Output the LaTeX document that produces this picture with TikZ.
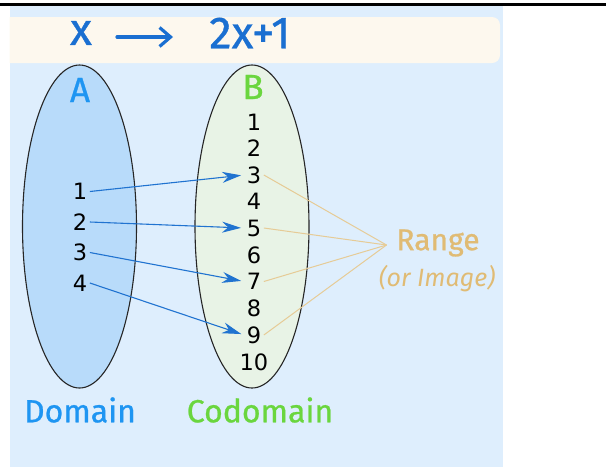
\documentclass[tikz,border=0pt]{standalone}
\usepackage{fontspec}
\setmainfont{Fira Sans}
\newfontfamily\digitfont{DejaVu Sans}
\newfontfamily\headfont[FakeBold=0.8]{Fira Sans}
\usetikzlibrary{arrows.meta,shapes.geometric}

\definecolor{panelblue}{HTML}{DEEEFD}
\definecolor{bandcream}{HTML}{FDF8EE}
\definecolor{setAfill}{HTML}{B8DBFA}
\definecolor{setBfill}{HTML}{E8F3E6}
\definecolor{titleblue}{HTML}{1A6FD1}
\definecolor{labelblue}{HTML}{1E95F2}
\definecolor{labelgreen}{HTML}{6AD63E}
\definecolor{arrowblue}{HTML}{2073D0}
\definecolor{tanline}{HTML}{E6CB96}
\definecolor{tantext}{HTML}{E0BB74}

\tikzset{
  setshape/.style={ellipse, draw=black!85, line width=1.1pt, inner sep=0pt,
                   minimum width=114pt, minimum height=323pt},
  num/.style={font=\digitfont\fontsize{22.5}{22.5}\selectfont, text=black,
              inner sep=2.5pt},
  setlabel/.style={font=\headfont\fontsize{35}{35}\selectfont, inner sep=0pt},
  caption/.style={font=\headfont\fontsize{32}{32}\selectfont, inner sep=0pt},
  maparrow/.style={draw=arrowblue, line width=1.1pt,
                   -{Stealth[length=19pt, width=11pt, inset=6pt]},
                   shorten >=3pt},
  rangeline/.style={draw=tanline, line width=1pt},
  titletext/.style={font=\headfont\fontsize{45}{45}\selectfont, text=titleblue,
                    inner sep=0pt}
}

\begin{document}
\begin{tikzpicture}[x=1pt, y=-1pt]
  \useasboundingbox (0,0) rectangle (606,467);

  % background panel and rule above it
  \fill[panelblue] (9.5,6) rectangle (503,467);
  \draw[black, line width=2.2pt] (0,4.5) -- (606,4.5);

  % cream title band, rounded on the right only
  \begin{scope}
    \clip (9.5,0) rectangle (606,467);
    \fill[bandcream, rounded corners=8pt] (-10,17) rectangle (500,63);
  \end{scope}

  % title: x -> 2x+1
  \node[titletext] (tx) at (81,33) {x};
  \node[titletext] (tf) at (250,33) {2x+1};
  \coordinate (tarrs) at (117,37);
  \coordinate (tarre) at (173,37);
  \draw[titleblue, line width=3.2pt, line cap=round,
        -{Straight Barb[length=11pt, width=19pt, line width=3.2pt]}]
        (tarrs) -- (tarre);

  % the two sets
  \node[setshape, fill=setAfill] (setA) at (79.5,226.5) {};
  \node[setshape, fill=setBfill] (setB) at (252,226.5) {};

  \node[setlabel, text=labelblue]  (labA) at (80,90) {A};
  \node[setlabel, text=labelgreen] (labB) at (253,87) {B};

  % elements of A
  \node[num] (a1) at (80,191.5) {1};
  \node[num] (a2) at (80,222) {2};
  \node[num] (a3) at (80,252.5) {3};
  \node[num] (a4) at (80,283) {4};

  % elements of B
  \foreach \k/\yy in {1/122, 2/148.5, 3/175, 4/201.5, 5/228, 6/255,
                      7/281.5, 8/308, 9/335, 10/362} {
    \node[num] (b\k) at (254,\yy) {\k};
  }

  % the mapping x -> 2x+1
  \draw[maparrow] (a1.east) -- (b3.west);
  \draw[maparrow] (a2.east) -- (b5.west);
  \draw[maparrow] (a3.east) -- (b7.west);
  \draw[maparrow] (a4.east) -- (b9.west);

  % range annotation
  \coordinate (rangept) at (386.5,245);
  \draw[rangeline] (b3.east) -- (rangept);
  \draw[rangeline] (b5.east) -- (rangept);
  \draw[rangeline] (b7.east) -- (rangept);
  \draw[rangeline] (b9.east) -- (rangept);

  \node[font=\headfont\fontsize{30}{30}\selectfont, text=tantext, inner sep=0pt]
        (range) at (438,243) {Range};
  \node[font=\itshape\fontsize{25}{25}\selectfont, text=tantext, inner sep=0pt]
        (image) at (437,279) {(or Image)};

  % captions
  \node[caption, text=labelblue]  (dom)   at (80,410) {Domain};
  \node[caption, text=labelgreen] (codom) at (260,410) {Codomain};
\end{tikzpicture}
\end{document}
